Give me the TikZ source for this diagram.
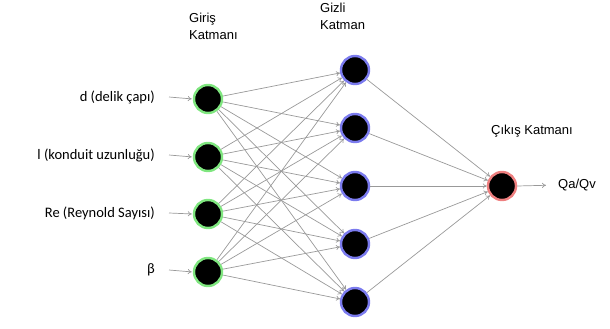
\documentclass[tikz,border=0pt]{standalone}
\usepackage{fontspec}
\setmainfont{Liberation Sans}
\newfontfamily\calfont{Carlito}
\usetikzlibrary{arrows.meta}
\definecolor{ingreen}{HTML}{7FE67F}
\definecolor{hidblue}{HTML}{7B7BEE}
\definecolor{outred}{HTML}{EE7F7F}
\definecolor{edgegray}{HTML}{999999}
\begin{document}
\begin{tikzpicture}
  [x=1pt,y=-1pt,
   neuron/.style={circle, fill=black, line width=2.4pt, minimum size=28pt, inner sep=0pt},
   lbl/.style={font=\fontsize{13}{17}\selectfont, inner sep=0pt, align=left},
   inlbl/.style={font=\calfont\fontsize{14.5}{17}\selectfont, inner sep=0pt},
   edge/.style={draw=edgegray, line width=0.7pt, -{To[length=4pt,width=5pt]}}]
  \useasboundingbox (0,0) rectangle (610,329);

  \node[neuron, draw=ingreen] (i1) at (208,99)  {};
  \node[neuron, draw=ingreen] (i2) at (208,157) {};
  \node[neuron, draw=ingreen] (i3) at (208,214) {};
  \node[neuron, draw=ingreen] (i4) at (208,272) {};

  \node[neuron, draw=hidblue] (h1) at (355,70)  {};
  \node[neuron, draw=hidblue] (h2) at (355,128) {};
  \node[neuron, draw=hidblue] (h3) at (355,186) {};
  \node[neuron, draw=hidblue] (h4) at (355,244) {};
  \node[neuron, draw=hidblue] (h5) at (355,302) {};

  \node[neuron, draw=outred] (o1) at (502,186) {};

  \node[inlbl, anchor=east] (x1) at (155,97)  {d (delik çapı)};
  \node[inlbl, anchor=east] (x2) at (155,155) {l (konduit uzunluğu)};
  \node[inlbl, anchor=east] (x3) at (155,213) {Re (Reynold Sayısı)};
  \node[inlbl, anchor=east] (x4) at (155,270) {β};
  \node[lbl, anchor=west] (y1) at (558,185) {Qa/Qv};

  \node[lbl, anchor=north west] (t1) at (189,13) {Giriş\\Katmanı};
  \node[lbl, anchor=north west] (t2) at (320,3)  {Gizli\\Katman};
  \node[lbl] (t3) at (532,131) {Çıkış Katmanı};

  \foreach \i in {1,...,4}
    \draw[edge, shorten >=1pt] (x\i.east) ++(14,0) coordinate (s\i) -- (i\i.west);
  \foreach \i in {1,...,4}
    \foreach \j in {1,...,5}
      \draw[edge] (i\i) -- (h\j);
  \foreach \j in {1,...,5}
    \draw[edge] (h\j) -- (o1);
  \draw[edge, shorten >=12pt] (o1.east) -- (y1.west);

\end{tikzpicture}
\end{document}
